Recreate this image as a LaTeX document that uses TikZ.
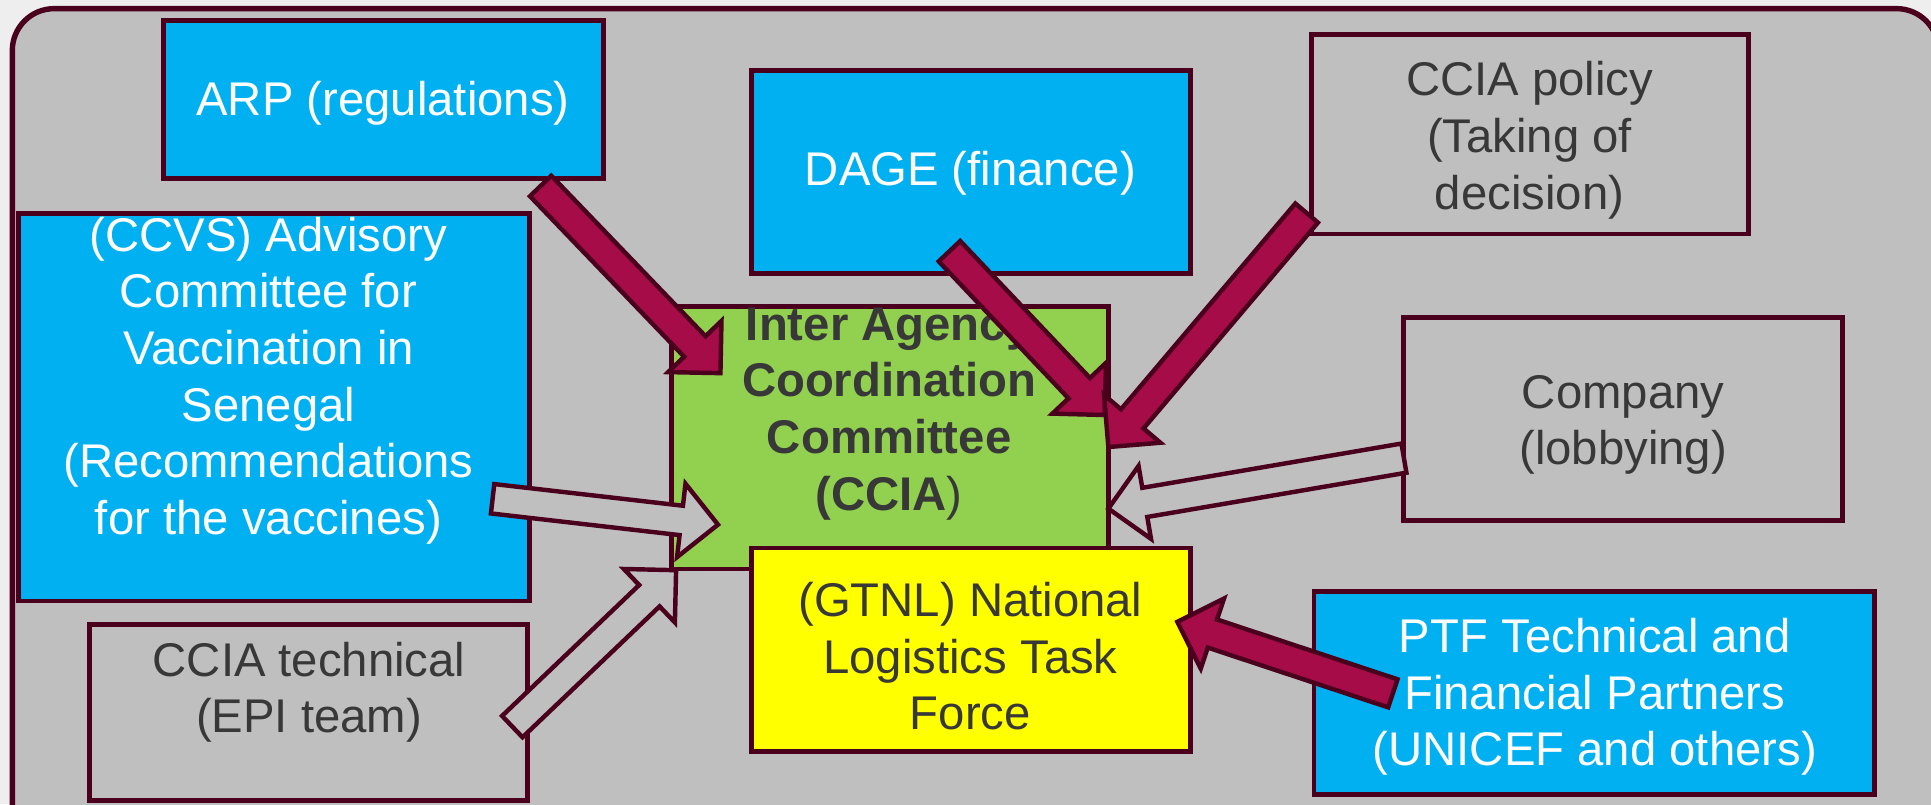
\documentclass[tikz,border=0pt]{standalone}
\usepackage{fontspec}
\setmainfont{Liberation Sans}
\usetikzlibrary{calc,fit}
\definecolor{bgout}{RGB}{238,238,238}
\definecolor{panel}{RGB}{191,191,191}
\definecolor{edge}{RGB}{74,0,28}
\definecolor{boxblue}{RGB}{0,176,240}
\definecolor{boxgreen}{RGB}{146,208,80}
\definecolor{boxyellow}{RGB}{255,255,0}
\definecolor{arrowred}{RGB}{165,12,72}
\definecolor{txtgray}{RGB}{56,56,56}
\tikzset{
  box/.style={draw=edge, line width=2pt, inner sep=0pt},
  bluebox/.style={box, fill=boxblue},
  graybox/.style={box, fill=panel},
  greenbox/.style={box, fill=boxgreen},
  yellowbox/.style={box, fill=boxyellow},
  txt/.style={inner sep=0pt, align=center, font=\fontsize{19.2}{23}\selectfont},
  whitetxt/.style={txt, text=white},
  graytxt/.style={txt, text=txtgray},
  solidarrow/.style={fill=arrowred, draw=edge, line width=1.8pt, line join=miter},
  hollowarrow/.style={fill=panel, draw=edge, line width=1.8pt, line join=miter}
}
\newcommand{\barrow}[3]{%
  \coordinate (bh) at ($(#3)!15pt!(#2)$);
  \path[#1] ($(#2)!6pt!90:(#3)$) -- ($(bh)!6pt!-90:(#2)$) -- ($(bh)!15pt!-90:(#2)$)
    -- (#3) -- ($(bh)!15pt!90:(#2)$) -- ($(bh)!6pt!90:(#2)$) -- ($(#2)!6pt!-90:(#3)$) -- cycle;}
\begin{document}
\begin{tikzpicture}[x=0.5pt,y=-0.5pt]
\useasboundingbox (0,0) rectangle (1568,653);
\fill[bgout] (0,0) rectangle (1568,653);
\draw[edge, fill=panel, line width=2.2pt, rounded corners=17pt] (10,7) rectangle (1574,720);

% boxes
\node[bluebox, fit={(133,17) (490,145)}] (arp) {};
\node[whitetxt] (arptext) at (311,84) {ARP (regulations)};
\node[bluebox, fit={(610,57) (967,222)}] (dage) {};
\node[whitetxt] (dagetext) at (788,141) {DAGE (finance)};
\node[graybox, fit={(1065,28) (1420,190)}] (policy) {};
\node[graytxt] (policytext) at (1242,114) {CCIA policy\\(Taking of\\decision)};
\node[bluebox, fit={(15,173) (430,488)}] (ccvs) {};
\node[whitetxt] (ccvstext) at (218,309) {(CCVS) Advisory\\Committee for\\Vaccination in\\Senegal\\(Recommendations\\for the vaccines)};
\node[graybox, fit={(1140,258) (1496,423)}] (company) {};
\node[graytxt] (companytext) at (1318,345) {Company\\(lobbying)};
\node[greenbox, fit={(545,249) (900,462)}] (ccia) {};
\node[graytxt, font=\fontsize{19.2}{23}\selectfont\bfseries] (cciatext) at (722,336) {Inter Agency\\Coordination\\Committee\\(CCIA{\mdseries)}};
\node[yellowbox, fit={(610,445) (967,610)}] (gtnl) {};
\node[graytxt] (gtnltext) at (788,533) {(GTNL) National\\Logistics Task\\Force};
\node[graybox, fit={(73,507) (428,650)}] (tech) {};
\node[graytxt] (techtext) at (251,562) {CCIA technical\\(EPI team)};
\node[bluebox, fit={(1067,480) (1522,645)}] (ptf) {};
\node[whitetxt] (ptftext) at (1295,566) {PTF Technical and\\Financial Partners\\(UNICEF and others)};

% arrow ends
\coordinate (arpT) at (439,151);   \coordinate (arpH) at (585,303);
\coordinate (dageT) at (771,204);  \coordinate (dageH) at (897,337);
\coordinate (polT) at (1061,173);  \coordinate (polH) at (900,363);
\coordinate (ptfT) at (1131,563);  \coordinate (ptfH) at (956,505);
\coordinate (ccvsT) at (400,405);  \coordinate (ccvsH) at (583,426);
\coordinate (comT) at (1140,372);  \coordinate (comH) at (900,413);
\coordinate (techT) at (416,590);  \coordinate (techH) at (549,463);

\barrow{solidarrow}{arpT}{arpH}
\barrow{solidarrow}{dageT}{dageH}
\barrow{solidarrow}{polT}{polH}
\barrow{solidarrow}{ptfT}{ptfH}
\barrow{hollowarrow}{ccvsT}{ccvsH}
\barrow{hollowarrow}{comT}{comH}
\barrow{hollowarrow}{techT}{techH}
\end{tikzpicture}
\end{document}
